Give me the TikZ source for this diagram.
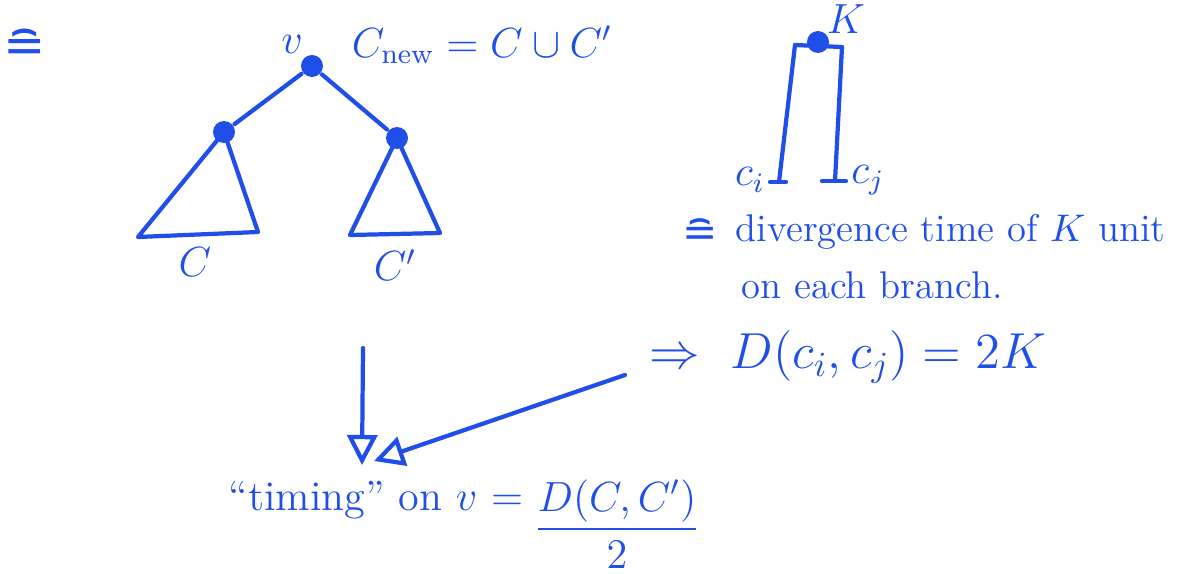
\documentclass[tikz,border=0pt]{standalone}
\usepackage{amsmath}
\usepackage{fontspec}
\newfontfamily\dejavu{DejaVu Sans}
\usetikzlibrary{arrows.meta}
\definecolor{ink}{RGB}{32,78,232}
\tikzset{
  dot/.style={circle,fill=ink,inner sep=0pt,minimum size=2.2mm},
  lbl/.style={text=ink,font=\large},
  small/.style={text=ink,font=\fontsize{11}{13}\selectfont},
  big/.style={text=ink,font=\Large}
}
\newcommand{\corresp}{{\dejavu ≘}}
\begin{document}
\begin{tikzpicture}[x=0.1mm,y=-0.1mm,draw=ink,very thick,line cap=round]
			\useasboundingbox (0,0) rectangle (1182,574);
			
			\node[big] (corr) at (25,46) {\corresp};
			
			% tree on the left
			\node[dot] (v) at (312,66) {};
			\node[dot] (l) at (224,132) {};
			\node[dot] (r) at (397,138) {};
			\draw (v) -- (l);
			\draw (v) -- (r);
			\draw[line join=round] (l.center) -- (138,237) -- (258,232) -- cycle;
			\draw[line join=round] (r.center) -- (350,235) -- (440,233) -- cycle;
			
			\node[lbl] (vlab) at (292,44) {$v$};
			\node[lbl,anchor=west] (cnew) at (338,45) {$C_{\mathrm{new}} = C \cup C'$};
			\node[lbl] (clab) at (195,262) {$C$};
			\node[lbl] (cplab) at (395,265) {$C'$};
			
			% tree on the right
			\node[dot] (k) at (818,42) {};
			\node[lbl] (klab) at (846,19) {$K$};
			\coordinate (kl) at (795,45);
			\coordinate (kr) at (842,47);
			\coordinate (ci) at (779,182);
			\coordinate (cj) at (835,181);
			\draw (kl) -- (kr);
			\draw (kl) -- (ci);
			\draw (kr) -- (cj);
			\draw (770,182) -- (786,182);
			\draw (822,181) -- (846,181);
			\node[lbl] (cilab) at (750,180) {$c_i$};
			\node[lbl] (cjlab) at (868,180) {$c_j$};
			
			\node[lbl] (divsym) at (700,233) {\corresp};
			\node[small,anchor=west] (div) at (722,232) {divergence time of $K$ unit};
			\node[small,anchor=west] (each) at (728,285) {on each branch.};
			\node[big,anchor=west] (dist) at (636,357) {$\Rightarrow\ D(c_i,c_j) = 2K$};
			
			% arrows
			\coordinate (down) at (363,348);
			\coordinate (from) at (625,375);
			\coordinate (tipa) at (362,465);
			\coordinate (tipb) at (374,461);
			\draw[-{Triangle[open,length=3mm,width=3mm]}] (down) -- (tipa);
			\draw[-{Triangle[open,length=3mm,width=3mm]}] (from) -- (tipb);
			
			\node[lbl,anchor=west] (timing) at (215,500) {``timing'' on $v$ $=$};
			\node[lbl] (frac) at (617,524) {$\dfrac{D(C,C')}{2}$};
		\end{tikzpicture}
\end{document}
